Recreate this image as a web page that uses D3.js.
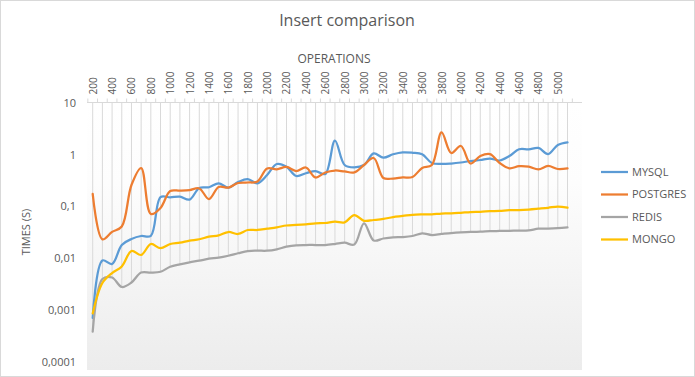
<!DOCTYPE html>
<html>
<head>
<meta charset="utf-8">
<script src="https://cdn.jsdelivr.net/npm/d3@7"></script>
<style>
  body { margin: 0; background: #fff; }
  text { font-family: "Open Sans", "Liberation Sans", sans-serif; fill: #595959; }
</style>
</head>
<body>
<div id="chart"></div>
<script>
const operations = d3.range(200, 5200, 100);

const mysql = [0.000698, 0.0090, 0.0077, 0.0179, 0.0234, 0.0267, 0.027, 0.151, 0.149, 0.153,
  0.135, 0.226, 0.233, 0.278, 0.229, 0.294, 0.336, 0.278, 0.402, 0.656,
  0.581, 0.385, 0.434, 0.480, 0.420, 1.85, 0.627, 0.566, 0.627, 1.05,
  0.867, 1.01, 1.10, 1.08, 1.01, 0.685, 0.656, 0.670, 0.701, 0.749,
  0.783, 0.837, 0.766, 0.935, 1.26, 1.26, 1.34, 1.02, 1.53, 1.72];

const postgres = [0.173, 0.023, 0.032, 0.0407, 0.258, 0.548, 0.071, 0.093, 0.197, 0.200,
  0.206, 0.221, 0.138, 0.236, 0.229, 0.282, 0.288, 0.301, 0.537, 0.518,
  0.574, 0.480, 0.561, 0.360, 0.449, 0.491, 0.470, 0.453, 0.627, 0.856,
  0.352, 0.344, 0.360, 0.368, 0.548, 0.627, 2.66, 1.07, 1.46, 0.670,
  0.935, 1.02, 0.685, 0.542, 0.594, 0.581, 0.518, 0.600, 0.525, 0.542];

const redis = [0.000379, 0.00395, 0.00422, 0.00277, 0.00338, 0.00527, 0.00525, 0.00546, 0.00682, 0.00759,
  0.00830, 0.00891, 0.00973, 0.0102, 0.0111, 0.0124, 0.0137, 0.0139, 0.0139, 0.0148,
  0.0166, 0.0177, 0.0179, 0.0179, 0.0179, 0.0187, 0.0198, 0.0183, 0.0470, 0.0219,
  0.0239, 0.0252, 0.0255, 0.0267, 0.0301, 0.0279, 0.0292, 0.0305, 0.0315, 0.0322,
  0.0323, 0.0331, 0.0334, 0.0337, 0.0338, 0.0342, 0.0370, 0.0370, 0.0377, 0.0393];

const mongo = [0.000853, 0.0033, 0.00515, 0.00689, 0.0137, 0.0115, 0.0187, 0.0155, 0.0187, 0.0198,
  0.0217, 0.0231, 0.0259, 0.0275, 0.0319, 0.0292, 0.0349, 0.0349, 0.0370, 0.0393,
  0.0426, 0.0436, 0.0450, 0.0470, 0.0476, 0.0505, 0.0491, 0.0679, 0.0525, 0.0544,
  0.0569, 0.0621, 0.0650, 0.0686, 0.0698, 0.0700, 0.0726, 0.0729, 0.0750, 0.0776,
  0.0784, 0.0804, 0.0818, 0.0841, 0.0847, 0.0867, 0.0899, 0.0935, 0.0991, 0.0940];

const seriesNames = ['MYSQL', 'POSTGRES', 'REDIS', 'MONGO'];
const seriesColors = ['#5b9bd5', '#ed7d31', '#a5a5a5', '#ffc000'];
const yTickValues = [0.0001, 0.001, 0.01, 0.1, 1, 10];
const yTickLabels = ['0,0001', '0,001', '0,01', '0,1', '1', '10'];

const w = 695;
const h = 377;

const series = [mysql, postgres, redis, mongo].map((vals, k) => ({
  name: seriesNames[k], color: seriesColors[k],
  values: vals.map((v, i) => [operations[i], v])
}));

const svg = d3.select('#chart')
  .append('svg')
  .attr('width', w)
  .attr('height', h);

const defs = svg.append('defs');
const grad = defs.append('linearGradient')
  .attr('id', 'bg')
  .attr('x1', 0).attr('y1', 0).attr('x2', 0).attr('y2', 1);
grad.append('stop').attr('offset', '0%').attr('stop-color', '#ffffff');
grad.append('stop').attr('offset', '30%').attr('stop-color', '#fdfdfd');
grad.append('stop').attr('offset', '100%').attr('stop-color', '#ececec');

svg.append('rect')
  .attr('x', 0.5).attr('y', 0.5)
  .attr('width', w - 1).attr('height', h - 1)
  .attr('fill', '#fff')
  .attr('stroke', '#d9d9d9');

const xScale = d3.scalePoint()
  .domain(operations)
  .range([92.7, 567.5]);
const step = xScale.step();

const yScale = d3.scaleLog()
  .domain([0.0001, 10])
  .range([361.7, 102.7]);

const plotLeft = 87, plotRight = 582, plotTop = 102.5, plotBottom = 370;

svg.append('rect')
  .attr('x', plotLeft).attr('y', plotTop)
  .attr('width', plotRight - plotLeft).attr('height', plotBottom - plotTop)
  .attr('fill', 'url(#bg)');

// drop lines from the top axis down to the lowest point
svg.append('g')
  .selectAll('line')
  .data(operations)
  .enter()
  .append('line')
  .attr('x1', d => xScale(d))
  .attr('x2', d => xScale(d))
  .attr('y1', plotTop)
  .attr('y2', (d, i) => yScale(d3.min(series, s => s.values[i][1])))
  .attr('stroke', '#d9d9d9')
  .attr('stroke-width', 1);

// category axis on top
svg.append('line')
  .attr('x1', plotLeft).attr('x2', plotRight)
  .attr('y1', plotTop).attr('y2', plotTop)
  .attr('stroke', '#d9d9d9');

svg.append('g')
  .selectAll('line')
  .data(operations.concat([operations[operations.length - 1] + 100]))
  .enter()
  .append('line')
  .attr('x1', (d, i) => i < operations.length ? xScale(d) - step / 2 : xScale(operations[operations.length - 1]) + step / 2)
  .attr('x2', (d, i) => i < operations.length ? xScale(d) - step / 2 : xScale(operations[operations.length - 1]) + step / 2)
  .attr('y1', plotTop - 4)
  .attr('y2', plotTop)
  .attr('stroke', '#d9d9d9');

const xAxis = d3.axisTop(xScale)
  .tickValues(operations.filter((d, i) => i % 2 === 0))
  .tickSize(0);

const xg = svg.append('g')
  .attr('transform', 'translate(0,' + (plotTop - 8) + ')')
  .call(xAxis);
xg.select('.domain').remove();
xg.selectAll('text')
  .attr('transform', 'rotate(-90)')
  .attr('x', 0)
  .attr('y', 0)
  .attr('dy', '0.35em')
  .style('text-anchor', 'start')
  .style('font-size', '10px')
  .style('fill', '#595959')
  .style('font-family', '"Open Sans", sans-serif');

const yAxis = d3.axisLeft(yScale)
  .tickValues(yTickValues)
  .tickFormat((d, i) => yTickLabels[i])
  .tickSize(0)
  .tickPadding(0);

const yg = svg.append('g')
  .attr('transform', 'translate(76,0)')
  .call(yAxis);
yg.select('.domain').remove();
yg.selectAll('text')
  .style('font-size', '11px')
  .style('fill', '#595959')
  .style('font-family', '"Open Sans", sans-serif');

const line = d3.line()
  .x(d => xScale(d[0]))
  .y(d => yScale(d[1]))
  .curve(d3.curveCatmullRom.alpha(0.5));

svg.append('g')
  .selectAll('path')
  .data(series)
  .enter()
  .append('path')
  .attr('d', d => line(d.values))
  .attr('fill', 'none')
  .attr('stroke', d => d.color)
  .attr('stroke-width', 2.25)
  .attr('stroke-linejoin', 'round')
  .attr('stroke-linecap', 'round');

// titles
svg.append('text')
  .text('Insert comparison')
  .attr('x', 347)
  .attr('y', 26)
  .attr('text-anchor', 'middle')
  .style('font-size', '16px');

svg.append('text')
  .text('OPERATIONS')
  .attr('x', 334)
  .attr('y', 62.5)
  .attr('text-anchor', 'middle')
  .style('font-size', '12px');

svg.append('text')
  .text('TIMES (S)')
  .attr('transform', 'translate(30,232) rotate(-90)')
  .attr('text-anchor', 'middle')
  .style('font-size', '11px');

// legend
const legend = svg.append('g')
  .selectAll('g')
  .data(series)
  .enter()
  .append('g')
  .attr('transform', (d, i) => 'translate(601,' + (172 + i * 22.5) + ')');

legend.append('line')
  .attr('x1', 0).attr('x2', 27)
  .attr('y1', 0).attr('y2', 0)
  .attr('stroke', d => d.color)
  .attr('stroke-width', 2.25);

legend.append('text')
  .text(d => d.name)
  .attr('x', 31)
  .attr('y', 0)
  .attr('dy', '0.35em')
  .style('font-size', '11px');
</script>
</body>
</html>
